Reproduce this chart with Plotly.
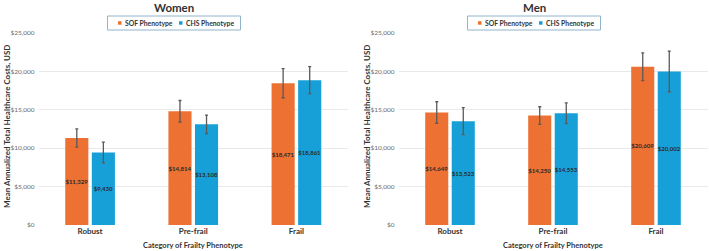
import plotly.graph_objects as go

categories = ["Robust", "Pre-frail", "Frail"]
series_names = ["SOF Phenotype", "CHS Phenotype"]

women_sof = [11329, 14814, 18471]
women_chs = [9430, 13108, 18861]
women_sof_err = [1200, 1400, 1900]
women_chs_err = [1350, 1200, 1750]

men_sof = [14649, 14250, 20609]
men_chs = [13523, 14553, 20002]
men_sof_err = [1400, 1150, 1800]
men_chs_err = [1750, 1350, 2650]

panel_titles = ["Women", "Men"]
y_ticks = [0, 5000, 10000, 15000, 20000, 25000]
y_tick_labels = ["$0", "$5,000", "$10,000", "$15,000", "$20,000", "$25,000"]

ORANGE = "#EC7133"
BLUE = "#17A0D8"
W, H = 709, 251
FONT = "Lato"
DARK = "#333333"

fig = go.Figure()


def px_x(p):
    return p / W


def px_y(p):
    return 1 - p / H


panels = [
    (women_sof, women_chs, women_sof_err, women_chs_err, "x", "y"),
    (men_sof, men_chs, men_sof_err, men_chs_err, "x2", "y2"),
]

for sof, chs, sof_e, chs_e, xa, ya in panels:
    for name, vals, errs, col in [(series_names[0], sof, sof_e, ORANGE),
                                  (series_names[1], chs, chs_e, BLUE)]:
        fig.add_trace(go.Bar(
            x=categories, y=vals, name=name, marker_color=col,
            marker_line_width=0, showlegend=False,
            xaxis=xa, yaxis=ya,
            error_y=dict(type="data", array=errs, color="#595959",
                         thickness=1.3, width=1.5),
            texttemplate="<b>$%{y:,}</b>", textposition="inside",
            insidetextanchor="middle", textangle=0, constraintext="none",
            textfont=dict(size=6, color="#2a2a2a", family=FONT),
            hoverinfo="skip",
        ))

axis_common = dict(showgrid=False, showline=False, zeroline=False,
                   tickfont=dict(size=8, color=DARK, family=FONT),
                   ticks="", type="category", automargin=False,
                   tickvals=categories,
                   ticktext=["<b>%s</b>" % c for c in categories])
yaxis_common = dict(range=[0, 25000], tickvals=y_ticks, ticktext=y_tick_labels,
                    showgrid=True, gridcolor="#E9E9E9",
                    gridwidth=1, zeroline=False, showline=False,
                    tickfont=dict(size=6.5, color="#6b6b6b", family=FONT),
                    ticks="", ticklabelstandoff=3, automargin=False)

ydom = [px_y(225), px_y(33)]
fig.update_layout(
    width=W, height=H,
    margin=dict(l=0, r=0, t=0, b=0),
    paper_bgcolor="white", plot_bgcolor="white",
    barmode="group", bargap=0.485, bargroupgap=0.13,
    font=dict(family=FONT),
    showlegend=False,
    xaxis=dict(domain=[px_x(38.5), px_x(348)], anchor="y", **axis_common),
    yaxis=dict(domain=ydom, anchor="x", **yaxis_common),
    xaxis2=dict(domain=[px_x(398.5), px_x(707.5)], anchor="y2", **axis_common),
    yaxis2=dict(domain=ydom, anchor="x2", **yaxis_common),
)

annotations = []
shapes = []
for cx, title in [(174, panel_titles[0]), (534, panel_titles[1])]:
    annotations.append(dict(text="<b>%s</b>" % title, x=px_x(cx), y=px_y(8),
                            xref="paper", yref="paper", showarrow=False,
                            xanchor="center", yanchor="middle",
                            font=dict(size=11.5, color=DARK, family=FONT)))
    # legend box
    shapes.append(dict(type="rect", xref="paper", yref="paper",
                       x0=px_x(cx - 66.5), x1=px_x(cx + 66.5),
                       y0=px_y(30), y1=px_y(16),
                       line=dict(color="#8FB4CC", width=1),
                       fillcolor="white"))
    for off, name, col in [(-56, series_names[0], ORANGE),
                           (5, series_names[1], BLUE)]:
        sx = cx + off
        shapes.append(dict(type="rect", xref="paper", yref="paper",
                           x0=px_x(sx), x1=px_x(sx + 3.5),
                           y0=px_y(24.7), y1=px_y(21.2),
                           line=dict(width=0), fillcolor=col))
        annotations.append(dict(text="<b>%s</b>" % name, x=px_x(sx + 5),
                                y=px_y(23), xref="paper", yref="paper",
                                showarrow=False, xanchor="left",
                                yanchor="middle",
                                font=dict(size=6.8, color=DARK, family=FONT)))

for cx in [193, 553]:
    annotations.append(dict(text="<b>Category of Frailty Phenotype</b>",
                            x=px_x(cx), y=px_y(245), xref="paper", yref="paper",
                            showarrow=False, xanchor="center", yanchor="middle",
                            font=dict(size=7.5, color=DARK, family=FONT)))
for cx in [7, 367]:
    annotations.append(dict(text="<b>Mean Annualized Total Healthcare Costs, USD</b>",
                            x=px_x(cx), y=px_y(127), xref="paper", yref="paper",
                            showarrow=False, xanchor="center", yanchor="middle",
                            textangle=-90,
                            font=dict(size=8, color=DARK, family=FONT)))
fig.update_layout(annotations=annotations, shapes=shapes)

fig.write_html("out.html", config={"displayModeBar": False})

# remove the default page margin so the figure sits at the window's corner
with open("out.html", "r", encoding="utf-8") as f:
    html = f.read()
html = html.replace("<head>", "<head><style>html,body{margin:0;padding:0;overflow:hidden;}</style>", 1)
with open("out.html", "w", encoding="utf-8") as f:
    f.write(html)
